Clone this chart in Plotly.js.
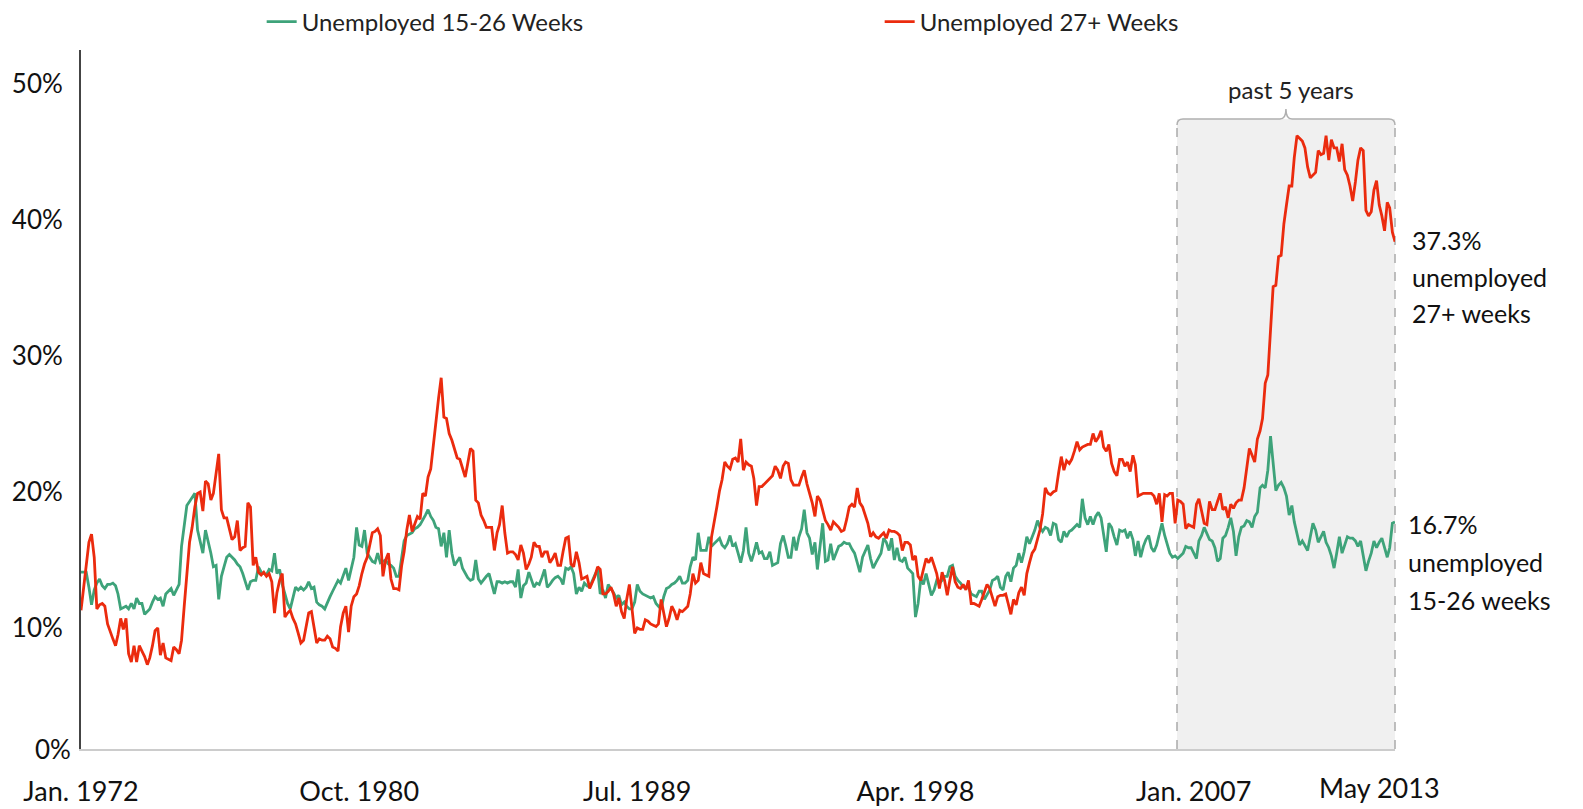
<!DOCTYPE html>
<html>
<head>
<meta charset="utf-8">
<script src="https://cdn.plot.ly/plotly-3.0.1.min.js"></script>
<style>
  html, body { margin: 0; padding: 0; background: #ffffff; }
  #chart { width: 1583px; height: 809px; }
</style>
</head>
<body>
<div id="chart"></div>
<script>
// Monthly series, Jan. 1972 - May 2013 (percent of unemployed)
const startYear = 1972;

const unemployed27Plus = [
  10.2, 12.0, 13.6, 15.2, 15.8, 14.1, 10.3, 10.6, 10.7, 10.5, 9.2, 8.6,
  8.1, 7.6, 8.4, 9.6, 8.8, 9.6, 7.0, 6.4, 7.6, 6.4, 7.6, 7.2,
  6.8, 6.2, 6.7, 7.6, 8.7, 8.9, 6.9, 7.8, 6.7, 6.6, 6.5, 7.5,
  7.3, 7.0, 8.0, 10.5, 12.9, 15.2, 16.3, 17.8, 18.8, 18.9, 17.5, 19.7,
  19.5, 18.3, 18.8, 20.5, 21.7, 17.6, 17.0, 17.0, 16.2, 15.4, 15.6, 16.8,
  14.6, 14.8, 14.9, 18.1, 17.8, 13.5, 14.1, 13.0, 12.8, 13.0, 12.7, 12.9,
  12.3, 10.0, 11.5, 12.4, 12.9, 9.7, 10.0, 10.2, 9.6, 9.2, 8.5, 7.8,
  8.0, 9.0, 10.0, 10.1, 9.0, 7.8, 8.1, 8.0, 8.0, 8.3, 8.1, 7.5,
  7.4, 7.2, 9.0, 10.0, 10.5, 8.6, 10.5, 11.2, 11.4, 12.0, 12.9, 13.6,
  14.1, 15.0, 15.9, 16.0, 16.2, 15.7, 12.7, 13.9, 14.4, 12.5, 11.8, 11.8,
  11.7, 13.5, 14.5, 16.1, 17.2, 16.0, 16.5, 17.1, 16.9, 18.8, 18.6, 20.0,
  20.6, 22.5, 24.0, 25.8, 27.3, 24.4, 24.3, 23.2, 22.7, 22.1, 21.4, 21.3,
  20.6, 20.0, 21.0, 22.1, 21.9, 18.3, 18.1, 17.2, 16.8, 16.3, 16.3, 16.3,
  14.6, 15.9, 16.5, 17.9, 15.9, 14.4, 14.5, 14.5, 14.3, 13.9, 15.0, 14.4,
  13.2, 13.6, 14.1, 15.2, 14.9, 14.9, 14.1, 14.5, 14.5, 13.7, 14.0, 14.4,
  13.5, 13.5, 14.5, 15.5, 15.6, 13.6, 13.4, 14.5, 13.7, 12.5, 12.6, 12.7,
  11.8, 12.3, 12.7, 13.4, 13.2, 11.4, 11.4, 11.6, 11.9, 11.4, 10.5, 11.1,
  10.1, 9.6, 11.0, 12.1, 10.5, 8.5, 8.9, 8.8, 8.8, 9.5, 9.4, 9.2,
  9.1, 9.0, 9.2, 11.0, 10.0, 9.0, 9.6, 10.5, 10.1, 9.5, 10.2, 10.1,
  10.3, 10.5, 11.4, 12.9, 12.2, 12.4, 13.7, 12.9, 12.8, 12.7, 15.6, 16.6,
  17.8, 19.0, 19.8, 21.1, 20.8, 20.6, 21.3, 21.4, 21.1, 22.8, 20.5, 21.1,
  20.9, 20.8, 19.9, 17.9, 19.3, 19.3, 19.5, 19.7, 19.9, 20.1, 20.8, 20.5,
  19.9, 20.8, 21.1, 21.0, 19.8, 19.4, 19.4, 19.4, 20.0, 20.5, 19.5, 18.9,
  18.1, 17.1, 18.6, 18.3, 17.5, 16.8, 16.5, 16.1, 16.7, 16.5, 16.3, 16.0,
  16.1, 16.9, 17.8, 18.0, 17.8, 19.2, 18.1, 17.8, 17.2, 16.6, 15.6, 15.9,
  15.6, 15.5, 15.7, 15.9, 15.5, 16.1, 16.0, 16.0, 15.9, 15.7, 14.6, 15.2,
  15.2, 15.0, 13.9, 14.2, 12.7, 12.4, 13.2, 14.0, 13.7, 14.1, 13.5, 12.9,
  11.8, 13.0, 12.4, 11.3, 12.4, 13.4, 12.3, 11.9, 11.8, 12.1, 11.7, 12.4,
  10.7, 10.7, 10.6, 10.5, 11.0, 11.6, 12.1, 11.8, 11.1, 10.5, 11.2, 11.3,
  11.3, 11.4, 10.7, 9.9, 11.0, 10.6, 11.5, 11.9, 11.3, 12.9, 13.7, 14.4,
  14.7, 15.5, 16.1, 17.3, 19.2, 18.8, 18.7, 18.9, 19.0, 20.3, 21.5, 20.5,
  21.2, 21.0, 21.3, 21.9, 22.6, 22.0, 22.2, 22.3, 22.4, 22.4, 23.2, 22.6,
  22.9, 23.4, 22.2, 21.9, 22.4, 21.0, 20.4, 20.1, 21.3, 21.3, 20.8, 21.1,
  20.4, 21.6, 20.9, 18.6, 18.7, 18.8, 18.8, 18.8, 18.8, 18.6, 18.0, 18.8,
  16.7, 18.7, 18.6, 18.8, 18.8, 16.6, 18.3, 18.2, 18.0, 16.2, 16.5, 16.4,
  16.3, 18.0, 18.4, 17.5, 16.6, 16.5, 18.2, 17.6, 17.6, 18.2, 18.8, 17.6,
  17.8, 17.0, 18.0, 17.7, 18.1, 18.3, 18.3, 19.2, 20.5, 22.1, 21.6, 21.1,
  22.8, 23.4, 24.3, 26.9, 27.5, 30.5, 34.0, 34.1, 36.2, 36.3, 38.6, 40.0,
  41.4, 41.4, 43.5, 45.1, 44.9, 44.7, 44.2, 42.8, 42.0, 42.2, 42.4, 44.0,
  43.7, 43.8, 45.1, 43.3, 44.8, 44.2, 44.2, 43.2, 44.5, 42.6, 42.2, 41.4,
  40.3, 41.7, 43.3, 44.2, 44.0, 39.6, 39.2, 39.5, 41.1, 41.8, 40.0, 39.2,
  38.1, 40.2, 39.8, 38.0, 37.3
];

const unemployed15to26 = [
  13.0, 13.0, 13.0, 11.9, 10.6, 11.7, 12.2, 12.5, 12.0, 11.8, 12.1, 12.1,
  12.2, 12.0, 11.4, 10.3, 10.4, 10.5, 10.3, 10.7, 10.3, 11.1, 10.7, 10.7,
  9.9, 10.1, 10.3, 10.8, 11.2, 11.0, 11.1, 10.5, 11.4, 11.6, 11.8, 11.3,
  11.7, 12.1, 14.9, 16.5, 17.9, 18.2, 18.5, 18.8, 16.1, 15.2, 14.4, 16.1,
  15.3, 14.4, 13.4, 13.5, 11.0, 12.7, 13.4, 14.1, 14.3, 14.1, 13.9, 13.6,
  13.4, 12.9, 12.3, 11.7, 12.3, 12.4, 12.4, 13.4, 13.0, 12.9, 12.8, 13.2,
  13.1, 14.4, 12.9, 13.2, 12.1, 11.4, 10.7, 10.3, 11.2, 11.9, 11.7, 11.9,
  11.7, 11.9, 12.3, 11.8, 11.9, 10.8, 10.6, 10.5, 10.3, 10.8, 11.2, 11.6,
  12.0, 12.4, 12.2, 12.8, 13.3, 12.4, 13.2, 14.1, 16.3, 15.0, 14.9, 16.1,
  14.4, 14.1, 13.8, 13.7, 14.4, 13.7, 13.8, 13.9, 13.6, 13.5, 13.3, 12.7,
  12.7, 13.9, 15.3, 15.7, 15.8, 15.9, 16.2, 16.3, 16.5, 16.8, 17.2, 17.6,
  17.1, 16.8, 16.3, 16.2, 14.9, 15.9, 14.1, 16.1, 14.4, 13.5, 13.8, 14.1,
  13.3, 12.9, 12.6, 12.4, 12.5, 13.9, 12.5, 12.2, 12.5, 12.7, 12.9, 12.2,
  11.4, 12.3, 12.3, 12.2, 12.3, 12.2, 12.3, 12.3, 11.9, 13.2, 11.1, 12.0,
  12.2, 13.0, 12.5, 11.9, 12.2, 12.1, 12.6, 13.2, 11.9, 12.1, 12.4, 12.6,
  12.7, 12.5, 12.1, 13.3, 13.2, 13.4, 12.9, 11.4, 11.9, 11.6, 12.2, 12.0,
  11.9, 12.4, 12.8, 13.2, 11.4, 11.7, 11.1, 12.1, 11.8, 11.5, 11.1, 11.3,
  10.6, 10.8, 10.5, 10.3, 10.3, 10.8, 12.1, 11.6, 11.4, 11.3, 11.2, 11.1,
  11.2, 10.7, 10.5, 10.3, 11.2, 11.8, 11.9, 12.1, 12.2, 12.4, 12.7, 12.2,
  12.2, 12.4, 13.4, 14.1, 13.9, 15.9, 14.6, 14.6, 14.6, 15.6, 14.9, 15.1,
  15.3, 15.5, 15.0, 14.8, 15.1, 15.7, 14.9, 15.1, 14.4, 13.7, 14.6, 16.3,
  14.4, 13.8, 14.4, 15.2, 14.4, 14.5, 14.0, 14.0, 14.5, 13.5, 13.6, 13.7,
  15.1, 15.7, 15.0, 14.1, 14.1, 15.6, 14.6, 15.6, 16.2, 17.6, 15.9, 15.5,
  14.3, 15.2, 13.2, 14.8, 16.6, 13.8, 13.9, 15.1, 13.9, 14.4, 14.9, 15.0,
  15.2, 15.1, 15.1, 14.7, 14.4, 13.7, 13.0, 14.1, 14.6, 15.0, 14.0, 13.3,
  13.7, 14.1, 14.4, 15.5, 15.2, 14.6, 15.5, 13.9, 14.8, 13.9, 13.8, 14.1,
  13.3, 13.1, 12.9, 9.7, 10.7, 12.5, 12.1, 12.9, 12.0, 11.3, 11.7, 12.4,
  12.2, 12.4, 12.7, 12.7, 13.4, 13.5, 12.7, 12.4, 12.2, 11.9, 11.9, 11.9,
  11.4, 11.3, 11.2, 11.6, 11.6, 11.0, 11.3, 11.7, 12.4, 12.5, 12.7, 11.9,
  11.7, 12.7, 13.0, 12.3, 13.3, 13.5, 14.4, 13.7, 14.5, 15.6, 15.1, 15.6,
  16.1, 16.8, 16.3, 16.0, 16.3, 16.2, 15.7, 16.6, 16.5, 15.4, 15.2, 16.0,
  15.6, 16.0, 16.1, 16.3, 16.5, 16.3, 18.4, 17.0, 16.5, 17.1, 16.5, 17.1,
  17.4, 17.0, 15.7, 14.5, 16.6, 16.3, 15.6, 15.0, 16.1, 16.0, 16.1, 15.5,
  16.0, 15.4, 14.2, 15.3, 14.1, 14.9, 15.4, 15.7, 14.8, 14.5, 15.0, 15.8,
  16.6, 15.7, 15.0, 14.4, 14.1, 14.2, 14.0, 14.2, 14.4, 14.9, 14.8, 14.8,
  14.4, 14.0, 15.3, 15.7, 16.3, 15.8, 15.4, 15.3, 14.8, 13.8, 14.0, 15.5,
  15.7, 16.3, 17.0, 16.0, 14.2, 15.6, 16.3, 16.4, 16.8, 16.7, 16.3, 17.1,
  17.4, 19.2, 19.4, 19.2, 20.5, 23.0, 20.8, 19.0, 19.4, 19.6, 19.2, 18.6,
  17.2, 17.9, 16.7, 15.7, 15.0, 15.3, 15.0, 14.6, 15.6, 16.6, 16.1, 15.2,
  15.6, 16.0, 15.2, 14.8, 14.2, 13.3, 14.4, 15.6, 14.4, 15.0, 15.6, 15.5,
  15.5, 15.3, 14.9, 15.3, 14.2, 13.1, 13.8, 14.4, 15.3, 14.8, 15.2, 15.5,
  14.8, 14.1, 14.8, 16.6, 16.7
];

const seriesNames = ['Unemployed 15-26 Weeks', 'Unemployed 27+ Weeks'];
const xTickDates = ['1972-01-01', '1980-10-01', '1989-07-01', '1998-04-01', '2007-01-01'];
const xTickLabels = ['Jan. 1972', 'Oct. 1980', 'Jul. 1989', 'Apr. 1998', 'Jan. 2007'];
const yTickValues = [10, 20, 30, 40, 50];
const yTickLabels = ['10%', '20%', '30%', '40%', '50%'];
const endLabel27 = ['37.3%', 'unemployed', '27+ weeks'];
const endLabel15 = ['16.7%', 'unemployed', '15-26 weeks'];

// month dates for the x axis
const months = unemployed27Plus.map((_, i) => {
  const y = startYear + Math.floor(i / 12);
  const m = (i % 12) + 1;
  return y + '-' + (m < 10 ? '0' + m : m) + '-01';
});
const lastMonth = months[months.length - 1];

const FONT = 'Lato, "Open Sans", "DejaVu Sans", sans-serif';
const GREEN = '#3ea37a';
const RED = '#eb2b0e';

const traces = [
  { x: months, y: unemployed15to26, type: 'scatter', mode: 'lines', name: seriesNames[0],
    line: { color: GREEN, width: 2.8 } },
  { x: months, y: unemployed27Plus, type: 'scatter', mode: 'lines', name: seriesNames[1],
    line: { color: RED, width: 2.8 } }
];

// geometry of the shaded "past 5 years" box in paper units
const bx0 = 0.8341, bx1 = 1.0, btop = 0.9013, rx = 0.0046, ry = 0.0086;
const notchX = 0.9170, notchTop = 0.9156;
const bracketPath =
  'M ' + bx0 + ',' + (btop - ry) +
  ' Q ' + bx0 + ',' + btop + ' ' + (bx0 + rx) + ',' + btop +
  ' L ' + (notchX - rx) + ',' + btop +
  ' Q ' + notchX + ',' + btop + ' ' + notchX + ',' + notchTop +
  ' Q ' + notchX + ',' + btop + ' ' + (notchX + rx) + ',' + btop +
  ' L ' + (bx1 - rx) + ',' + btop +
  ' Q ' + bx1 + ',' + btop + ' ' + bx1 + ',' + (btop - ry);

const annotations = [];
const lab27Y = [0.7282, 0.6752, 0.6237];
const lab15Y = [0.3219, 0.2675, 0.2132];
endLabel27.forEach((t, i) => annotations.push({
  xref: 'paper', yref: 'paper', x: 1.0114, y: lab27Y[i], xanchor: 'left', yanchor: 'middle',
  text: t, showarrow: false, font: { family: FONT, size: 25, color: '#111' }
}));
endLabel15.forEach((t, i) => annotations.push({
  xref: 'paper', yref: 'paper', x: 1.0084, y: lab15Y[i], xanchor: 'left', yanchor: 'middle',
  text: t, showarrow: false, font: { family: FONT, size: 25, color: '#111' }
}));
annotations.push({
  xref: 'paper', yref: 'paper', x: 0.9209, y: 0.9442, xanchor: 'center', yanchor: 'middle',
  text: 'past 5 years', showarrow: false, font: { family: FONT, size: 24, color: '#222' }
});
annotations.push({
  xref: 'paper', yref: 'paper', x: 0, y: 0, xanchor: 'right', yanchor: 'middle', xshift: -8,
  text: '0%', showarrow: false, font: { family: FONT, size: 26, color: '#111' }
});
annotations.push({
  xref: 'x', yref: 'paper', x: lastMonth, y: 0, xanchor: 'center', yanchor: 'middle',
  xshift: -16, yshift: -38,
  text: 'May 2013', showarrow: false, font: { family: FONT, size: 27, color: '#111' }
});

const layout = {
  width: 1583, height: 809,
  margin: { l: 81, r: 188, t: 50, b: 60, autoexpand: false },
  paper_bgcolor: '#ffffff', plot_bgcolor: 'rgba(0,0,0,0)',
  font: { family: FONT, color: '#111' },
  showlegend: true,
  legend: {
    orientation: 'h', x: 0.1375, xanchor: 'left', y: 1.040, yanchor: 'middle',
    font: { family: FONT, size: 24, color: '#222' },
    entrywidth: 573, entrywidthmode: 'pixels',
    bgcolor: 'rgba(0,0,0,0)', borderwidth: 0
  },
  xaxis: {
    type: 'date', range: [months[0], lastMonth],
    showgrid: false, zeroline: false,
    showline: true, linecolor: '#cccccc', linewidth: 2,
    ticks: '', tickvals: xTickDates, ticktext: xTickLabels,
    tickfont: { family: FONT, size: 27, color: '#111' },
    ticklabelstandoff: 18
  },
  yaxis: {
    range: [0, 51.4], showgrid: false, zeroline: false,
    showline: true, linecolor: '#444444', linewidth: 2,
    ticks: '', tickvals: yTickValues, ticktext: yTickLabels,
    tickfont: { family: FONT, size: 26, color: '#111' },
    ticklabelstandoff: 11, ticklabelshift: 15
  },
  shapes: [
    { type: 'rect', xref: 'paper', yref: 'paper', x0: bx0, x1: bx1, y0: 0, y1: btop,
      fillcolor: '#f0f0f0', line: { width: 0 }, layer: 'below' },
    { type: 'line', xref: 'paper', yref: 'paper', x0: bx0, x1: bx0, y0: 0, y1: btop - ry,
      line: { color: '#aaaaaa', width: 1.5, dash: 'dash' }, layer: 'below' },
    { type: 'line', xref: 'paper', yref: 'paper', x0: bx1, x1: bx1, y0: 0, y1: btop - ry,
      line: { color: '#aaaaaa', width: 1.5, dash: 'dash' }, layer: 'below' },
    { type: 'path', xref: 'paper', yref: 'paper', path: bracketPath,
      line: { color: '#b0b0b0', width: 1.5 }, layer: 'below' }
  ],
  annotations: annotations,
  hovermode: false
};

Plotly.newPlot('chart', traces, layout, { staticPlot: true, displayModeBar: false });
</script>
</body>
</html>
